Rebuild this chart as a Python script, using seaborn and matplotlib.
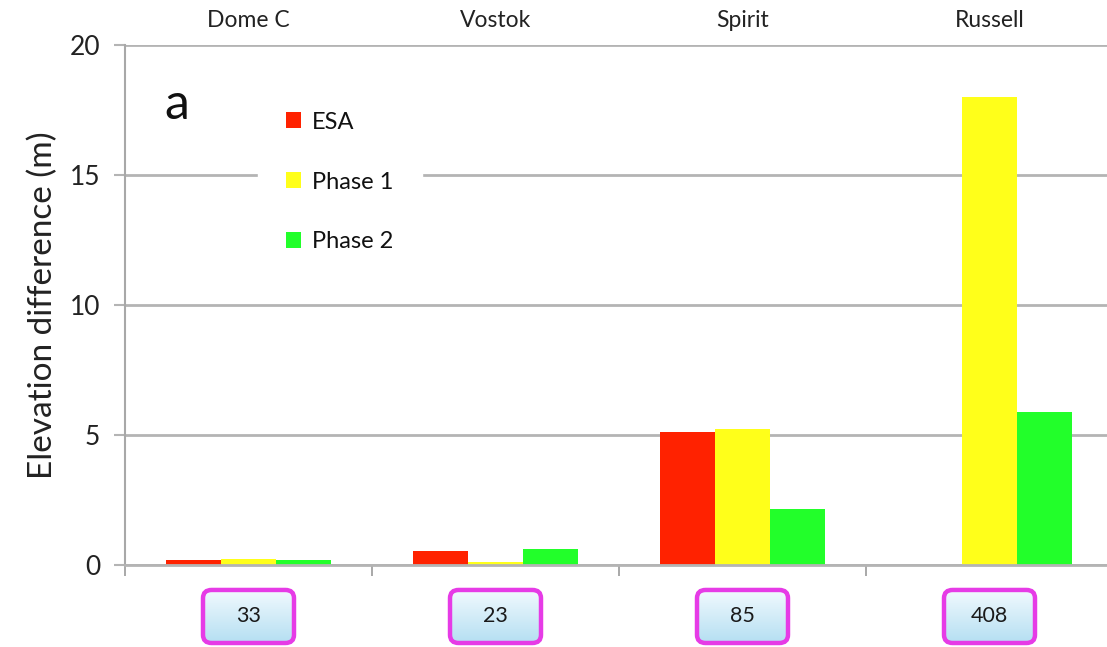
import numpy as np
import pandas as pd
import matplotlib
matplotlib.use("Agg")
import matplotlib.pyplot as plt
import seaborn as sns
from matplotlib.patches import FancyBboxPatch
from matplotlib.transforms import blended_transform_factory

# Elevation differences per site (m) for each processing version
sites = ["Dome C", "Vostok", "Spirit", "Russell"]
series = ["ESA", "Phase 1", "Phase 2"]
esa = [0.2, 0.55, 5.1, 0.0]
phase1 = [0.25, 0.12, 5.25, 18.0]
phase2 = [0.2, 0.6, 2.15, 5.9]
counts = [33, 23, 85, 408]
colors = ["#ff2200", "#ffff1a", "#22ff2a"]
yticks = [0, 5, 10, 15, 20]

df = pd.DataFrame({
    "site": sites * 3,
    "series": [s for s in series for _ in sites],
    "diff": esa + phase1 + phase2,
})

sns.set_style("white")
plt.rcParams["font.family"] = ["Lato", "DejaVu Sans"]

fig = plt.figure(figsize=(11.07, 6.47), dpi=100)
ax = fig.add_axes([125 / 1107, 1 - 565 / 647, 982 / 1107, 520 / 647])

sns.barplot(data=df, x="site", y="diff", hue="series", palette=colors,
            width=0.67, saturation=1, errorbar=None, ax=ax, zorder=2,
            linewidth=0)

grid_c = "#b4b4b4"
ax.set_yticks(yticks)
ax.set_yticklabels([str(t) for t in yticks])
ax.yaxis.grid(True, color=grid_c, linewidth=2)
ax.set_axisbelow(True)
ax.set_xticks([-0.5, 0.5, 1.5, 2.5])
ax.set_xticklabels([])
ax.set_xlabel("")
ax.set_ylabel("Elevation difference (m)", fontsize=24, labelpad=8, color="#222222")
ax.tick_params(axis="y", length=8, width=1.5, color=grid_c, labelsize=19,
               pad=10, labelcolor="#222222", left=True)
ax.tick_params(axis="x", length=8, width=1.2, color="#999999", bottom=True)
for side in ["top", "right"]:
    ax.spines[side].set_visible(False)
ax.spines["left"].set_color("#a8a8a8")
ax.spines["left"].set_linewidth(1.5)
ax.spines["bottom"].set_color(grid_c)
ax.spines["bottom"].set_linewidth(2)

trans = blended_transform_factory(ax.transData, ax.transAxes)

# Site names above the panel
for i, s in enumerate(sites):
    ax.text(i, 1.048, s, transform=trans, ha="center", va="center",
            fontsize=16.5, color="#222222")

# Count boxes below each site
half_w = 45.5 / 247
y0, y1 = -0.15, -0.048
grad = np.linspace(0, 1, 64).reshape(-1, 1)
cmap = matplotlib.colors.LinearSegmentedColormap.from_list(
    "boxfill", ["#f2fafe", "#b5dff2"])
for i, n in enumerate(counts):
    box = FancyBboxPatch((i - half_w, y0), 2 * half_w, y1 - y0,
                         boxstyle="round,pad=0,rounding_size=0.035",
                         mutation_aspect=0.45, transform=trans,
                         facecolor="none", edgecolor="#e63be6",
                         linewidth=3.2, clip_on=False, zorder=4)
    ax.add_patch(box)
    im = ax.imshow(grad, cmap=cmap, aspect="auto", origin="upper",
                   extent=(i - half_w, i + half_w, y0, y1),
                   transform=trans, zorder=3)
    im.set_clip_box(fig.bbox)
    im.set_clip_path(box)
    ax.text(i, (y0 + y1) / 2, str(n), transform=trans, ha="center",
            va="center", fontsize=15.5, color="#1a1a1a", zorder=5)

ax.set_ylim(0, 20)
ax.set_xlim(-0.5, -0.5 + 982 / 247)

# Panel letter
ax.text(0.04, 0.885, "a", transform=ax.transAxes, fontsize=36,
        ha="left", va="center", color="#111111")

leg = ax.legend(loc="center left", bbox_to_anchor=(0.123, 0.7365), frameon=True,
                fontsize=17, handlelength=0.65, handleheight=0.65,
                handletextpad=0.45, labelspacing=1.65, borderpad=1.2,
                title=None)
for t in leg.get_texts():
    t.set_color("#111111")
leg.get_frame().set_facecolor("white")
leg.get_frame().set_edgecolor("white")
leg.get_frame().set_alpha(1)
leg.get_frame().set_boxstyle("square,pad=0")

fig.savefig("out.png", dpi=100)
